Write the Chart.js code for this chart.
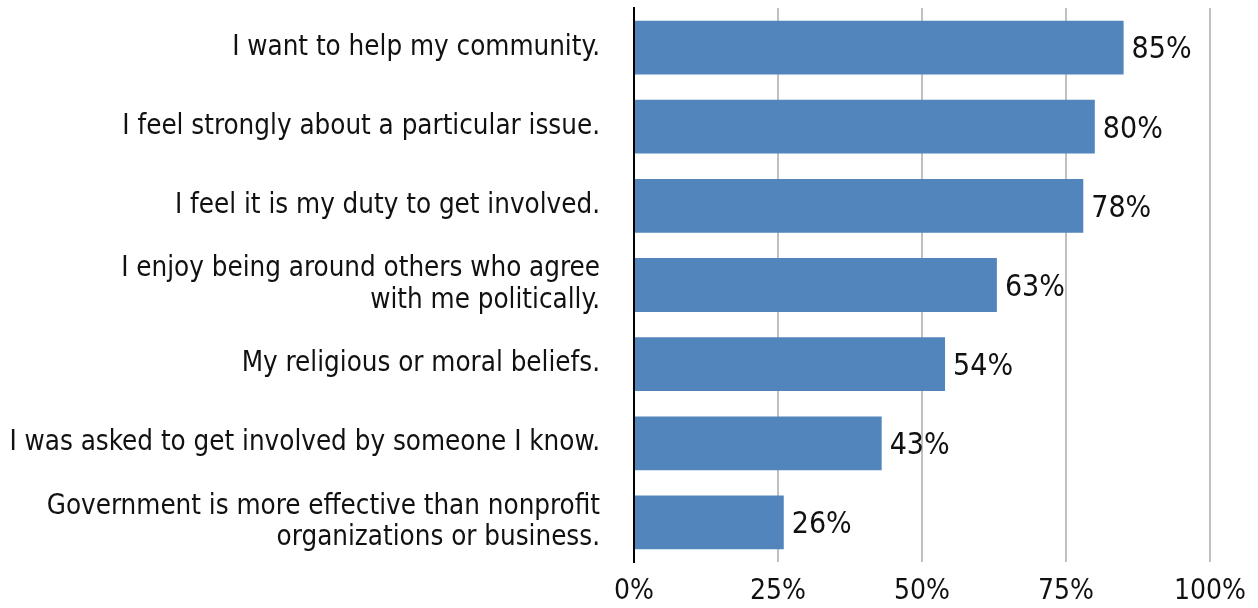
<!DOCTYPE html>
<html>
<head>
<meta charset="utf-8">
<script src="https://cdn.jsdelivr.net/npm/chart.js@4.4.0/dist/chart.umd.min.js"></script>
<style>
  html, body { margin: 0; padding: 0; background: #fff; }
  #wrap { width: 1258px; height: 608px; position: relative; }
</style>
</head>
<body>
<div id="wrap"><canvas id="reasonsChart"></canvas></div>
<script>
// Reasons for getting involved (share of respondents)
const reasons = [
    'I want to help my community.',
    'I feel strongly about a particular issue.',
    'I feel it is my duty to get involved.',
    ['I enjoy being around others who agree', 'with me politically.'],
    'My religious or moral beliefs.',
    'I was asked to get involved by someone I know.',
    ['Government is more effective than nonprofit', 'organizations or business.']
];
const shares = [85, 80, 78, 63, 54, 43, 26];
const xTicks = [0, 25, 50, 75, 100];

const FONT = '"Liberation Sans Narrow", "DejaVu Sans Condensed", sans-serif';

// Value labels at the end of each bar
const barLabels = {
    id: 'barLabels',
    afterDatasetsDraw(chart) {
        const ctx = chart.ctx;
        const meta = chart.getDatasetMeta(0);
        ctx.save();
        ctx.font = '30px ' + FONT;
        ctx.fillStyle = '#111';
        ctx.textAlign = 'left';
        ctx.textBaseline = 'middle';
        meta.data.forEach((bar, i) => {
            ctx.fillText(shares[i] + '%', bar.x + 8, bar.y + 3);
        });
        ctx.restore();
    }
};

new Chart(document.getElementById('reasonsChart'), {
    type: 'bar',
    data: {
        labels: reasons,
        datasets: [{
            data: shares,
            backgroundColor: '#5185bc',
            borderWidth: 0,
            categoryPercentage: 0.68,
            barPercentage: 1.0
        }]
    },
    options: {
        indexAxis: 'y',
        responsive: true,
        maintainAspectRatio: false,
        animation: false,
        layout: { padding: { top: 8, right: 48, left: 0, bottom: 0 } },
        plugins: {
            legend: { display: false },
            tooltip: { enabled: false }
        },
        scales: {
            x: {
                min: 0,
                max: 100,
                afterBuildTicks: s => { s.ticks = xTicks.map(v => ({ value: v })); },
                grid: { color: '#c0c0c0', lineWidth: 2, drawTicks: false },
                border: { display: false },
                ticks: {
                    color: '#111',
                    font: { family: FONT, size: 28 },
                    padding: 13,
                    maxRotation: 0,
                    callback: v => v + '%'
                },
                afterFit: s => { s.height = 46; s.paddingLeft = 0; s.paddingRight = 0; }
            },
            y: {
                grid: { display: false, drawTicks: false },
                border: { display: true, color: '#000', width: 2 },
                ticks: {
                    color: '#111',
                    font: { family: FONT, size: 27.5, lineHeight: 1.15 },
                    padding: 34
                },
                afterFit: s => { s.width = 634; s.paddingTop = 0; s.paddingBottom = 0; }
            }
        }
    },
    plugins: [barLabels]
});
</script>
</body>
</html>
